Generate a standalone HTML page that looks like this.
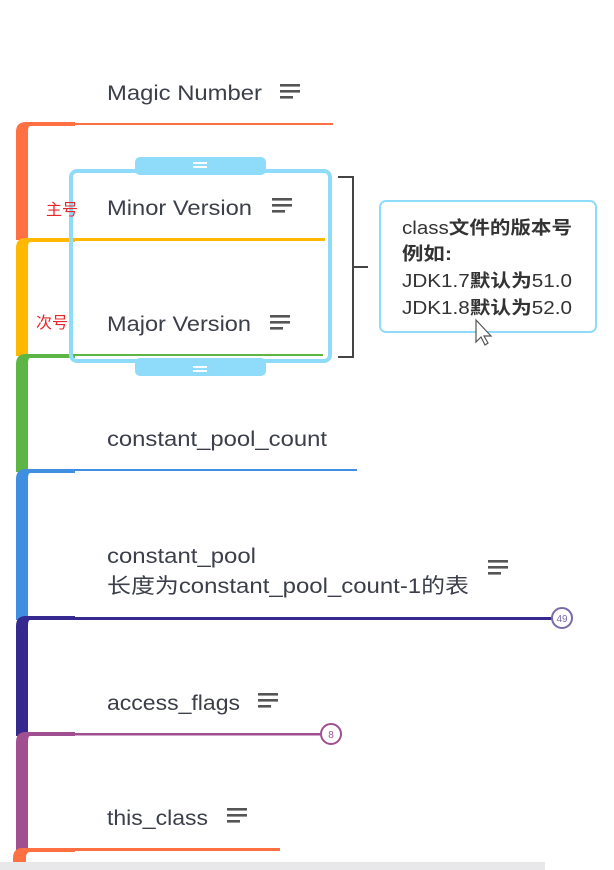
<!DOCTYPE html>
<html><head><meta charset="utf-8"><style>
html,body{margin:0;padding:0;background:#fff;}
svg{display:block;}
text{font-family:"Liberation Sans","Noto Sans CJK SC",sans-serif;}
</style></head><body>
<svg width="614" height="870" viewBox="0 0 614 870" xmlns="http://www.w3.org/2000/svg">
<defs>
<g id="note"><rect x="0" y="0" width="20" height="2.6" fill="#555"/><rect x="0" y="6" width="20" height="2.6" fill="#555"/><rect x="0" y="12" width="13" height="2.6" fill="#555"/></g>
</defs>
<g>
<path d="M16 240 V132 Q16 122 26 122 H75 V126 H30 Q28 126 28 132 V240 Z" fill="#ff7043"/>
<rect x="70" y="123" width="263" height="2" fill="#ff7043"/>
<path d="M16 356 V248 Q16 238 26 238 H75 V242 H30 Q28 242 28 248 V356 Z" fill="#ffb800"/>
<rect x="70" y="238" width="255" height="3" fill="#ffb800"/>
<path d="M16 472 V364 Q16 354 26 354 H75 V358 H30 Q28 358 28 364 V472 Z" fill="#5cb545"/>
<rect x="70" y="354" width="253" height="2" fill="#5cb545"/>
<path d="M16 620 V479 Q16 469 26 469 H75 V473 H30 Q28 473 28 479 V620 Z" fill="#3f8ee0"/>
<rect x="70" y="469" width="287" height="2" fill="#3f8ee0"/>
<path d="M16 736 V626 Q16 616 26 616 H75 V620 H30 Q28 620 28 626 V736 Z" fill="#35288f"/>
<rect x="70" y="617" width="482" height="3" fill="#35288f"/>
<path d="M16 852 V742 Q16 732 26 732 H75 V736 H30 Q28 736 28 742 V852 Z" fill="#a04f90"/>
<rect x="70" y="733" width="250" height="2.5" fill="#a04f90"/>
<path d="M13 862 V858 Q13 848 23 848 H75 V852 H30 Q26 852 26 858 V862 Z" fill="#ff7043"/>
<rect x="70" y="848" width="210" height="3" fill="#ff7043"/>
</g>
<circle cx="562" cy="618" r="10" fill="#fff" stroke="#7a6aa8" stroke-width="2"/>
<text x="562" y="622" font-size="10" fill="#7a6aa8" text-anchor="middle">49</text>
<circle cx="331" cy="734" r="10" fill="#fff" stroke="#a04f90" stroke-width="2"/>
<text x="331" y="738" font-size="10" fill="#a04f90" text-anchor="middle">8</text>
<rect x="0" y="862" width="545" height="8" fill="#e8e8ea"/>
<rect x="135" y="157" width="131" height="18" rx="5" fill="#8fdcfa"/>
<rect x="135" y="358" width="131" height="18" rx="5" fill="#8fdcfa"/>
<rect x="193" y="162" width="14" height="2" fill="#fff"/><rect x="193" y="166" width="14" height="2" fill="#fff"/>
<rect x="193" y="366" width="14" height="2" fill="#fff"/><rect x="193" y="370" width="14" height="2" fill="#fff"/>
<rect x="71" y="171" width="259" height="190" rx="6" fill="none" stroke="#8fdcfa" stroke-width="4"/>
<g font-size="21" fill="#3c3f4a">
<text x="107" y="100" textLength="155" lengthAdjust="spacingAndGlyphs">Magic Number</text>
<text x="107" y="215" textLength="145" lengthAdjust="spacingAndGlyphs">Minor Version</text>
<text x="107" y="331" textLength="144" lengthAdjust="spacingAndGlyphs">Major Version</text>
<text x="107" y="446" textLength="220" lengthAdjust="spacingAndGlyphs">constant_pool_count</text>
<text x="107" y="563" textLength="149" lengthAdjust="spacingAndGlyphs">constant_pool</text>
<text x="107" y="593" textLength="362" lengthAdjust="spacingAndGlyphs">长度为constant_pool_count-1的表</text>
<text x="107" y="710" textLength="133" lengthAdjust="spacingAndGlyphs">access_flags</text>
<text x="107" y="825" textLength="101" lengthAdjust="spacingAndGlyphs">this_class</text>
</g>
<use href="#note" x="280" y="84"/>
<use href="#note" x="272" y="198"/>
<use href="#note" x="270" y="315"/>
<use href="#note" x="488" y="560"/>
<use href="#note" x="258" y="693"/>
<use href="#note" x="227" y="808"/>
<text x="46" y="215" font-size="16" fill="#e8262a">主号</text>
<text x="36" y="328" font-size="16" fill="#e8262a">次号</text>
<path d="M338 177 H353 V357 H338 M353 267 H368" fill="none" stroke="#444" stroke-width="2"/>
<rect x="380" y="201" width="216" height="131" rx="6" fill="#fff" stroke="#8fdcfa" stroke-width="2"/>
<g font-size="18" fill="#333">
<text x="402" y="234" textLength="170" lengthAdjust="spacingAndGlyphs">class<tspan font-weight="bold">文件的版本号</tspan></text>
<text x="402" y="260" font-weight="bold" textLength="50" lengthAdjust="spacingAndGlyphs">例如:</text>
<text x="402" y="287" textLength="170" lengthAdjust="spacingAndGlyphs">JDK1.7<tspan font-weight="bold">默认为</tspan>51.0</text>
<text x="402" y="314" textLength="170" lengthAdjust="spacingAndGlyphs">JDK1.8<tspan font-weight="bold">默认为</tspan>52.0</text>
</g>
<path d="M476 320 V342 L481 337 L485 345 L488 343 L484 336 L491 336 Z" fill="#fff" stroke="#555" stroke-width="1.2"/>
</svg>
</body></html>
